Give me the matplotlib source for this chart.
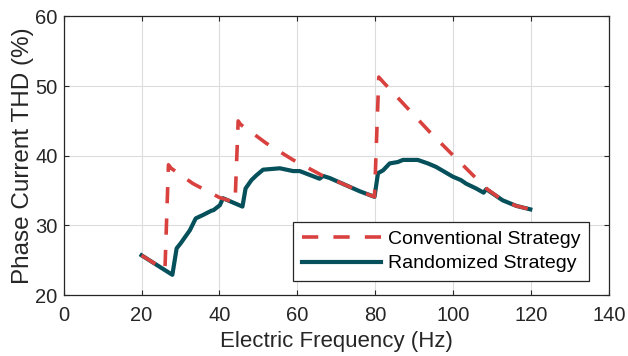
import matplotlib.pyplot as plt

freq_rand = [20, 27.9, 29, 30, 32.4, 33.9, 35.8, 37.9, 38.5, 40.1, 40.9, 45.9,
             46.7, 48.2, 49.5, 51.2, 55.5, 58.9, 60.6, 65.7, 66.6, 68.3, 76.0,
             79.8, 80.7, 82.0, 83.7, 85.8, 87.1, 90.9, 93.5, 95.6, 99.9, 102.0,
             103.3, 105.9, 107.8, 108.5, 112.7, 116.2, 119.8]
thd_rand = [25.7, 22.9, 26.7, 27.4, 29.3, 31.0, 31.5, 32.1, 32.2, 32.9, 33.9,
            32.7, 35.3, 36.5, 37.2, 38.0, 38.2, 37.8, 37.8, 36.7, 37.1, 36.8,
            34.9, 34.1, 37.5, 37.9, 38.9, 39.1, 39.4, 39.4, 38.9, 38.4, 37.0,
            36.5, 36.0, 35.3, 34.7, 35.2, 33.6, 32.8, 32.3]

freq_conv = [20, 26.0, 26.9, 27.6, 33.2, 40.0, 44.0, 44.8, 45.4, 49.1, 52.0,
             58.9, 66.6, 68.3, 76.0, 79.8, 80.9, 82.0, 94.0, 108.5, 112.7,
             116.2, 119.8]
thd_conv = [25.7, 23.6, 38.7, 38.2, 36.0, 34.0, 33.3, 45.0, 44.5, 43.0, 41.8,
            39.4, 37.1, 36.8, 34.9, 34.1, 51.3, 50.6, 43.4, 35.3, 33.6, 32.8,
            32.3]

xticks = [0, 20, 40, 60, 80, 100, 120, 140]
yticks = [20, 30, 40, 50, 60]

plt.rcParams['font.family'] = ['Liberation Sans', 'DejaVu Sans']
dark = '#262626'

fig = plt.figure(figsize=(6.28, 3.56), dpi=100)
ax = fig.add_axes([0.1014, 0.1713, 0.8683, 0.7824])

ax.plot(freq_rand, thd_rand, color='#05505A', lw=3.0,
        label='Randomized Strategy', zorder=3, solid_joinstyle='round')
ax.plot(freq_conv, thd_conv, color='#D9413F', lw=2.6, dashes=(4.5, 4.2),
        label='Conventional Strategy', zorder=4)

ax.set_xlim(0, 140)
ax.set_ylim(20, 60)
ax.set_xticks(xticks)
ax.set_yticks(yticks)
ax.grid(True, color='#dcdcdc', lw=0.8)
ax.set_axisbelow(True)
ax.tick_params(direction='in', top=True, right=True, length=3.5,
               labelsize=14.5, colors=dark)
ax.tick_params(axis='x', pad=8)
ax.tick_params(axis='y', pad=4.5)
for s in ax.spines.values():
    s.set_color(dark)
    s.set_linewidth(0.9)

ax.set_xlabel('Electric Frequency (Hz)', fontsize=16, color=dark, labelpad=4)
ax.set_ylabel('Phase Current THD (%)', fontsize=17.5, color=dark, labelpad=1)

h, l = ax.get_legend_handles_labels()
leg = ax.legend(h[::-1], l[::-1], loc='lower right',
                bbox_to_anchor=(0.964, 0.05), borderaxespad=0,
                fontsize=14, handlelength=4.1, fancybox=False,
                edgecolor=dark, framealpha=1, borderpad=0.45,
                labelspacing=0.35, handletextpad=0.35)
leg.get_frame().set_linewidth(0.9)

fig.savefig('out.png', dpi=100)
